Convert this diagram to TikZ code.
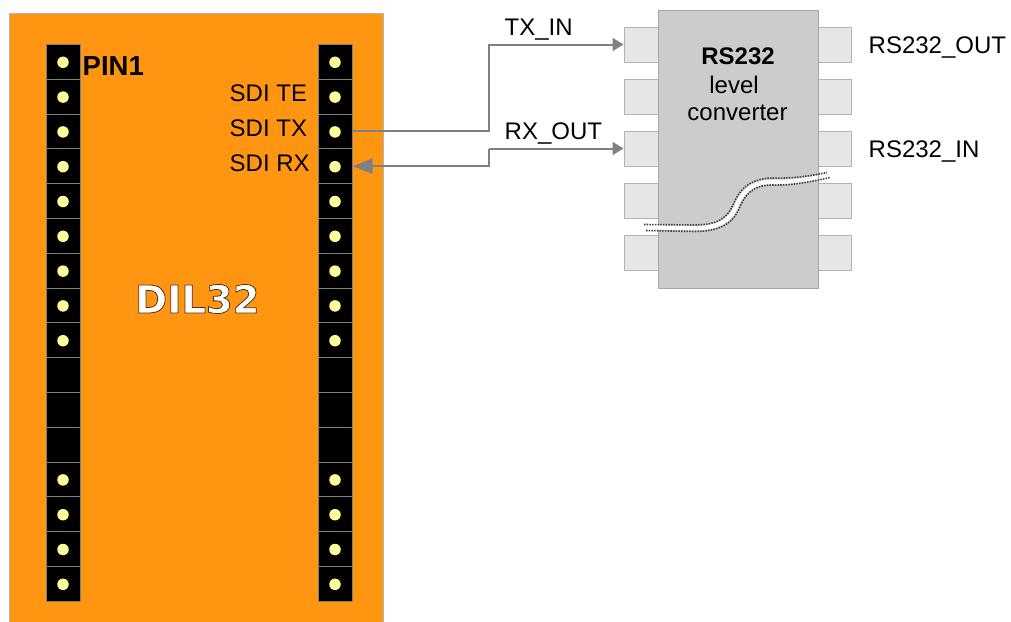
\documentclass[tikz,border=0pt]{standalone}
\usepackage{fontspec}
\setmainfont{Liberation Sans}
\newfontfamily\heavyfont{DejaVu Sans}
\usetikzlibrary{arrows.meta}
\definecolor{boardc}{HTML}{FF9511}
\definecolor{edgec}{HTML}{808080}
\definecolor{dotc}{HTML}{FFFF99}
\definecolor{chipc}{HTML}{CCCCCC}
\definecolor{chipe}{HTML}{A6A6A6}
\definecolor{legc}{HTML}{E6E6E6}
\definecolor{lege}{HTML}{B3B3B3}
\tikzset{
  board/.style={fill=boardc,draw=lege,line width=1pt,minimum width=374pt,minimum height=609pt,inner sep=0pt},
  cell/.style={fill=black,draw=edgec,line width=1pt,minimum width=34pt,minimum height=34.8pt,inner sep=0pt},
  hole/.style={circle,fill=dotc,draw=none,minimum size=11.5pt,inner sep=0pt},
  chip/.style={fill=chipc,draw=chipe,line width=1pt,minimum width=160pt,minimum height=278pt,inner sep=0pt},
  leg/.style={fill=legc,draw=lege,line width=1pt,minimum width=34pt,minimum height=35pt,inner sep=0pt},
  lab/.style={anchor=base west,inner sep=0pt,font=\fontsize{24}{26}\selectfont},
  ctr/.style={anchor=base,inner sep=0pt,font=\fontsize{24}{26}\selectfont},
  conn/.style={draw=edgec,line width=2pt},
  tipsmall/.style={-{Triangle[length=11pt,width=13pt]}},
  tipbig/.style={-{Triangle[length=20pt,width=15pt]}},
  breakband/.style={draw=white,line width=4.5pt},
  breakdots/.style={draw=black!75,line width=1.6pt,dash pattern=on 1.5pt off 1.2pt}
}
\begin{document}
\begin{tikzpicture}[x=1pt,y=-1pt]
\useasboundingbox (0,0) rectangle (1011,621);
\fill[white] (0,0) rectangle (1011,621);
\begin{scope}
\clip (0,0) rectangle (1011,621);
\node[board] (brd) at (196,317.5) {};
\end{scope}
% header strips
\foreach \i in {1,...,16}{
  \pgfmathsetmacro{\yy}{44.4+(\i-0.5)*34.8}
  \node[cell] (L\i) at (63,\yy) {};
  \node[cell] (R\i) at (335,\yy) {};
}
\foreach \i in {1,...,9,13,14,15,16}{
  \node[hole] (LH\i) at ([yshift=-0.5pt]L\i.center) {};
  \node[hole] (RH\i) at ([yshift=-0.5pt]R\i.center) {};
}
% chip legs
\node[leg] (A1) at (641,44.5) {};
\node[leg] (A2) at (641,96.5) {};
\node[leg] (A3) at (641,148.5) {};
\node[leg] (A4) at (641,201) {};
\node[leg] (A5) at (641,252.5) {};
\node[leg] (B1) at (834,44.5) {};
\node[leg] (B2) at (834,96.5) {};
\node[leg] (B3) at (834,148.5) {};
\node[leg] (B4) at (834,201) {};
\node[leg] (B5) at (834,252.5) {};
\node[chip] (ic) at (738,149) {};
% package break
\path[breakband] (658,227.5) -- (695,228) .. controls (722,228) and (731,218) .. (736,207)
  .. controls (741,194) and (750,182) .. (772,182) .. controls (790,182) and (800,181) .. (818,177.5);
\path[breakdots] (644,224.5) -- (695,225) .. controls (720,225) and (728,216) .. (733,205)
  .. controls (738,192) and (748,178.5) .. (772,178) .. controls (790,178.5) and (805,177) .. (827,172.5);
\path[breakdots] (646,230.5) -- (695,231.5) .. controls (724,231.5) and (734,220) .. (739,209)
  .. controls (744,196) and (752,185) .. (772,185) .. controls (790,185.5) and (805,183) .. (830,177.5);
% connectors
\coordinate (bus) at (488.5,100);
\draw[conn,tipsmall] (R3.east) -- (R3.east -| bus) -- (bus |- A1.west) -- (A1.west);
\draw[conn,tipsmall] (bus |- A3.west) -- (A3.west);
\draw[conn,tipbig] (bus |- A3.west) -- (bus |- R4.east) -- (R4.east);
% labels
\node[lab,font=\fontsize{27.5}{29}\selectfont\bfseries] (pin1) at (82.5,75) {PIN1};
\node[lab] (te) at (229.5,101) {SDI TE};
\node[lab] (tx) at (229.5,136) {SDI TX};
\node[lab] (rx) at (229.5,171) {SDI RX};
\node[lab] (txin) at (504.5,35) {TX\_IN};
\node[lab] (rxout) at (504.5,139) {RX\_OUT};
\node[lab] (rsout) at (868.5,53) {RS232\_OUT};
\node[lab] (rsin) at (868.5,157) {RS232\_IN};
\node[ctr,font=\fontsize{24}{26}\selectfont\bfseries] (t1) at (738,64) {RS232};
\node[ctr] (t2) at (734,93) {level};
\node[ctr] (t3) at (737.5,120) {converter};
\node[lab,text=white,font=\heavyfont\fontsize{38.5}{40}\selectfont\bfseries] (dil) at (135,313)
  {\special{pdf:code 2 Tr 0.8 w 0.3 0.2 0.1 RG}DIL32\special{pdf:code 0 Tr}};
\end{tikzpicture}
\end{document}
